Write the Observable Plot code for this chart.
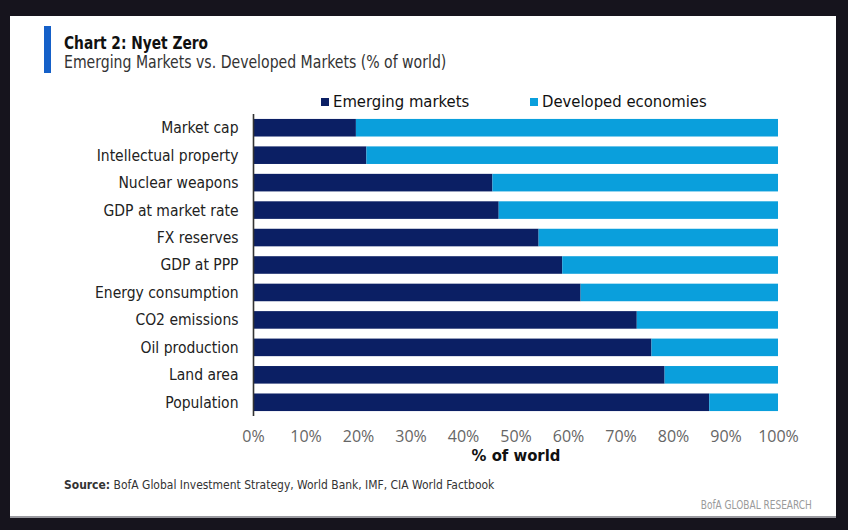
<!DOCTYPE html>
<html>
<head>
<meta charset="utf-8">
<script src="https://cdn.jsdelivr.net/npm/d3@7"></script>
<script src="https://cdn.jsdelivr.net/npm/@observablehq/plot@0.6"></script>
<style>
  html, body { margin: 0; padding: 0; }
  body { width: 848px; height: 530px; background: #16141d; position: relative; overflow: hidden;
         font-family: "DejaVu Sans Condensed", "DejaVu Sans", sans-serif; }
  #panel { position: absolute; left: 10px; top: 16px; width: 826px; height: 502px; background: #fff;
           border-bottom: 2px solid #9a9aa0; box-sizing: border-box; }
  .abs { position: absolute; white-space: nowrap; }
  #bar { left: 44px; top: 26px; width: 7px; height: 47px; background: #1560c8; }
  #title { left: 64px; top: 32px; font-size: 18px; font-weight: bold; color: #111;
           transform: scaleX(0.85); transform-origin: left center; }
  #subtitle { left: 64px; top: 52px; font-size: 17px; color: #333;
              transform: scaleX(0.92); transform-origin: left center; }
  #legend { left: 321px; top: 92px; font-size: 16.5px; color: #111; display: flex; align-items: center; }
  .sw { display: inline-block; width: 8px; height: 8px; margin-right: 4px; }
  #chart { left: 0; top: 108px; }
  #xlabel { left: 0; width: 1032px; text-align: center; top: 446px; font-size: 16.5px; font-weight: bold; color: #111; }
  #source { left: 64px; top: 477px; font-size: 13px; color: #333;
            transform: scaleX(0.92); transform-origin: left center; }
  #brand { right: 36px; top: 497px; font-size: 12.5px; color: #9a9a9a;
           transform: scaleX(0.8); transform-origin: right center; }
</style>
</head>
<body>
<div id="panel"></div>
<div class="abs" id="bar"></div>
<div class="abs" id="title">Chart 2: Nyet Zero</div>
<div class="abs" id="subtitle">Emerging Markets vs. Developed Markets (% of world)</div>
<div class="abs" id="legend"></div>
<div class="abs" id="chart"></div>
<div class="abs" id="xlabel">% of world</div>
<div class="abs" id="source"><b>Source:</b> BofA Global Investment Strategy, World Bank, IMF, CIA World Factbook</div>
<div class="abs" id="brand">BofA GLOBAL RESEARCH</div>
<script>
const categories = ["Market cap", "Intellectual property", "Nuclear weapons", "GDP at market rate",
  "FX reserves", "GDP at PPP", "Energy consumption", "CO2 emissions", "Oil production", "Land area", "Population"];
const emerging = [19.6, 21.6, 45.6, 46.8, 54.4, 58.9, 62.4, 73.1, 75.9, 78.4, 86.9];
const developed = [80.4, 78.4, 54.4, 53.2, 45.6, 41.1, 37.6, 26.9, 24.1, 21.6, 13.1];
const seriesNames = ["Emerging markets", "Developed economies"];
const seriesColors = ["#0b1f64", "#0a9fdc"];
const xTicks = [0, 10, 20, 30, 40, 50, 60, 70, 80, 90, 100];

const rows = [];
categories.forEach((c, i) => {
  rows.push({category: c, series: seriesNames[0], value: emerging[i]});
  rows.push({category: c, series: seriesNames[1], value: developed[i]});
});

// legend
const leg = document.getElementById("legend");
seriesNames.forEach((s, i) => {
  const item = document.createElement("span");
  item.style.display = "inline-flex";
  item.style.alignItems = "center";
  if (i === 1) { item.style.position = "absolute"; item.style.left = (530 - 321) + "px"; }
  item.innerHTML = `<span class="sw" style="background:${seriesColors[i]}"></span>${s}`;
  leg.appendChild(item);
});

const chart = Plot.plot({
  width: 848,
  height: 350,
  marginLeft: 253,
  marginRight: 70,
  marginTop: 6,
  marginBottom: 42,
  style: {fontFamily: '"DejaVu Sans Condensed", "DejaVu Sans", sans-serif', background: "transparent"},
  x: {domain: [0, 100], label: null},
  y: {domain: categories, label: null, paddingInner: 0.36, paddingOuter: 0.18, round: false},
  color: {domain: seriesNames, range: seriesColors},
  marks: [
    Plot.barX(rows, Plot.stackX({x: "value", y: "category", fill: "series", order: seriesNames})),
    Plot.ruleX([0], {stroke: "#333", strokeWidth: 1.6}),
    Plot.axisY({tickSize: 0, tickPadding: 15, fontSize: 15.5, color: "#222", label: null}),
    Plot.axisX({ticks: xTicks, tickSize: 0, tickPadding: 14, tickFormat: d => d + "%", fontSize: 16,
                color: "#666", label: null, fontFamily: '"Open Sans", "Liberation Sans", sans-serif'})
  ]
});
document.getElementById("chart").appendChild(chart);
</script>
</body>
</html>
